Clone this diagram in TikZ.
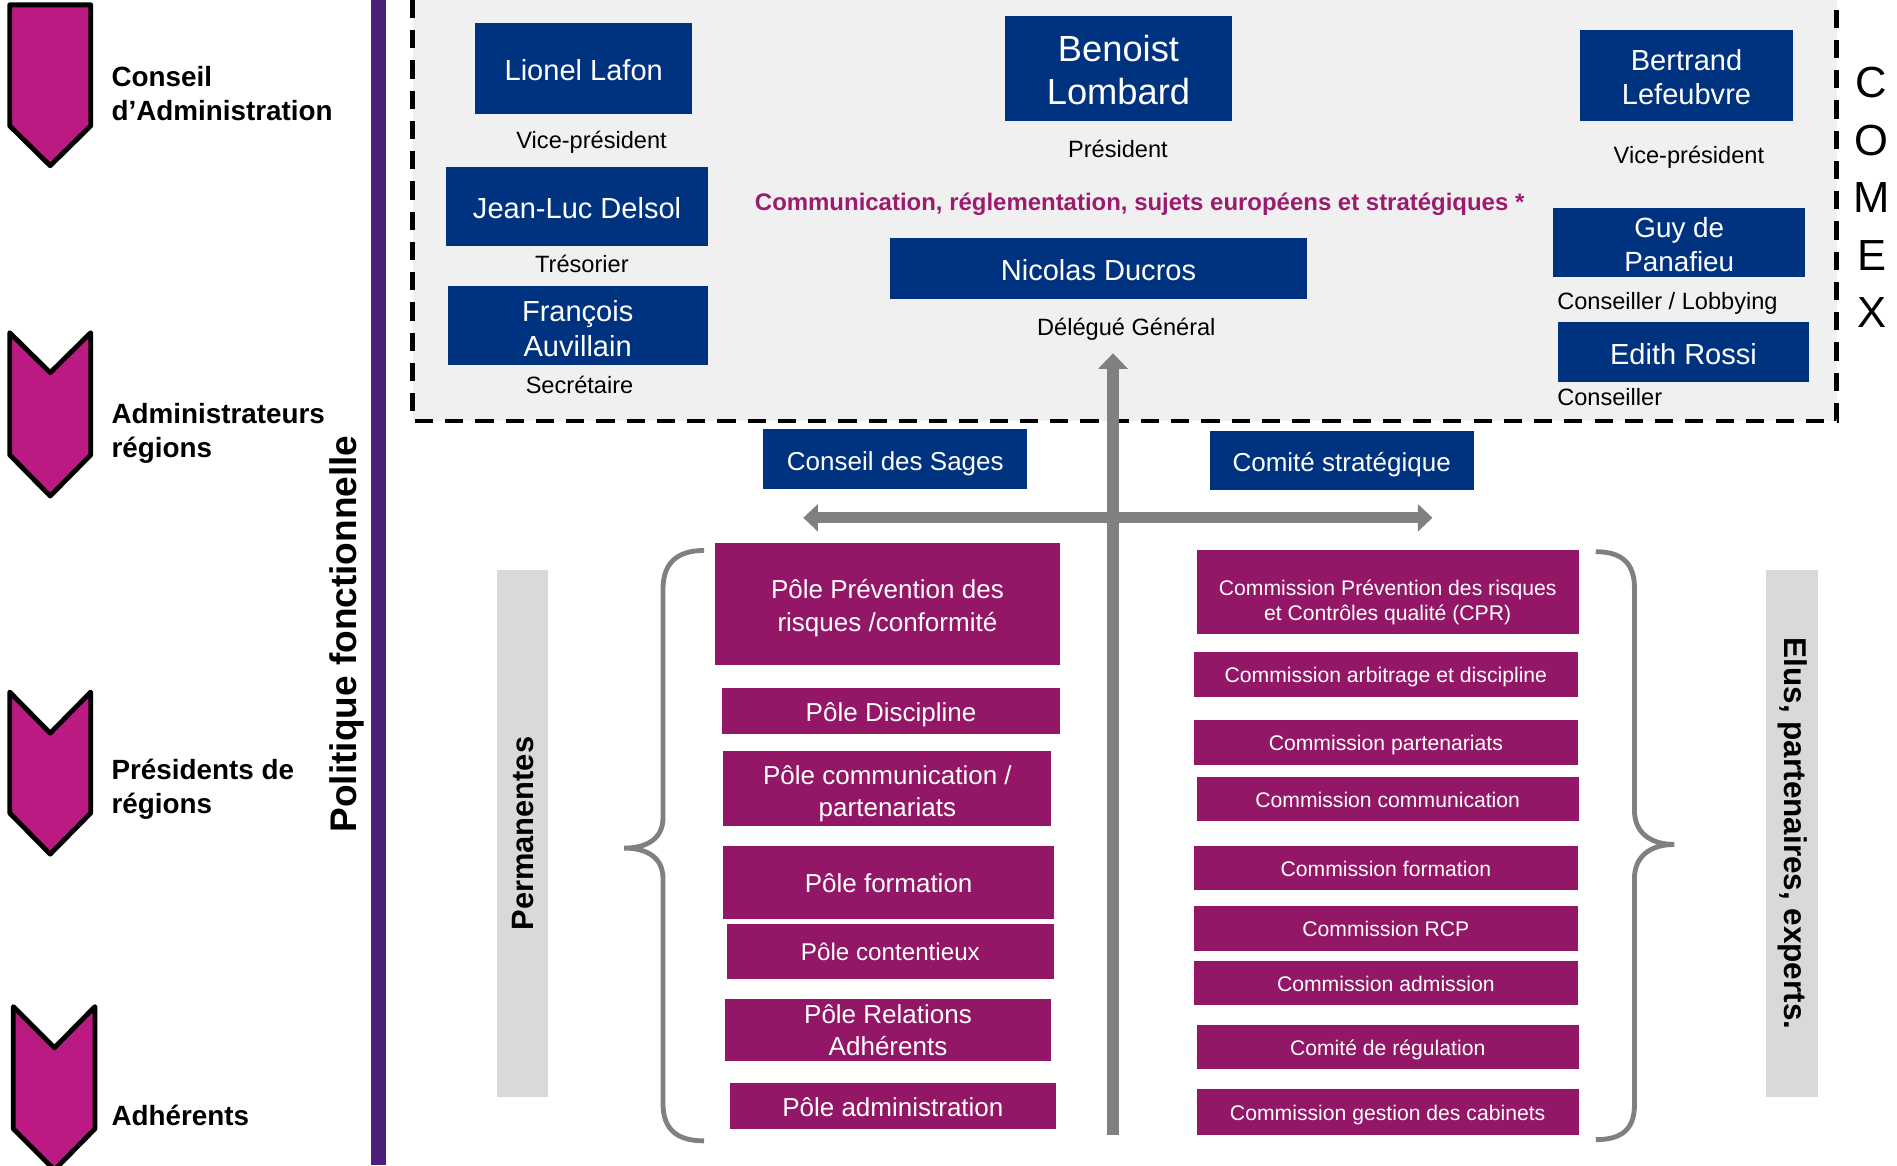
\documentclass[tikz,border=0pt]{standalone}
\usepackage{fontspec}
\setmainfont{Liberation Sans}
\usetikzlibrary{arrows.meta}
\definecolor{navy}{HTML}{00337F}
\definecolor{polec}{HTML}{931766}
\definecolor{chevc}{HTML}{BC1A83}
\definecolor{purplebar}{HTML}{4B1E7A}
\definecolor{magtext}{HTML}{9B1B6E}
\definecolor{arrgray}{HTML}{808080}
\definecolor{bargray}{HTML}{D9D9D9}
\definecolor{comexbg}{HTML}{F0F0F0}
\begin{document}
\begin{tikzpicture}[x=1pt,y=-1pt,
  capc/.style={text height=#1, text depth=0pt},
  navybox/.style={fill=navy, text=white, align=center, inner sep=0pt, font=\fontsize{24}{29}\selectfont, capc=20pt},
  polebox/.style={fill=polec, text=white, align=center, inner sep=0pt, font=\fontsize{21.5}{26}\selectfont, capc=17pt},
  combox/.style={fill=polec, text=white, align=center, inner sep=0pt, font=\fontsize{17.5}{21}\selectfont, capc=13.5pt},
  wtxt/.style={text=white, align=center, inner sep=0pt},
  role/.style={inner sep=0pt, capc=15pt, font=\fontsize{19.5}{23}\selectfont},
  lefttxt/.style={inner sep=0pt, anchor=west, align=left, font=\bfseries\fontsize{23}{28}\selectfont},
  chev/.style={fill=chevc, draw=black, line width=4pt, line join=round},
  garrow/.style={draw=arrgray, line width=9pt},
  brace/.style={draw=arrgray, line width=4pt},
  sidebar/.style={fill=bargray},
  comexl/.style={inner sep=0pt, font=\fontsize{36}{40}\selectfont}
]
\useasboundingbox (0,0) rectangle (1568,963);
\fill[white] (0,0) rectangle (1568,963);

% left chevrons
\draw[chev] (8,4) -- (75,4) -- (75,104) -- (41.5,137) -- (8,104) -- cycle;
\draw[chev] (8,275) -- (41.5,308) -- (75,275) -- (75,376) -- (41.5,410) -- (8,376) -- cycle;
\draw[chev] (8,572) -- (41.5,606) -- (75,572) -- (75,672) -- (41.5,706) -- (8,672) -- cycle;
\draw[chev] (11,832) -- (45,866) -- (78.5,832) -- (78.5,933) -- (45,967) -- (11,933) -- cycle;

\node[lefttxt] (l1) at (92,77) {Conseil\\d’Administration};
\node[lefttxt] (l2) at (92,358.5) {Administrateurs\\régions};
\node[lefttxt] (l3) at (92,652) {Présidents de\\régions};
\node[lefttxt] (l4) at (92,922) {Adhérents};

\node[inner sep=0pt, rotate=90, font=\bfseries\fontsize{30.6}{34}\selectfont] (pol) at (287,524) {Politique fonctionnelle};

% purple bar
\fill[purplebar] (307,0) rectangle (319,963);

% COMEX area
\fill[comexbg] (341,0) rectangle (1518,348);
\draw[line width=4pt, dash pattern=on 15pt off 10pt] (341,0) -- (341,348) -- (1518,348) -- (1518,0);

\node[comexl] (cx1) at (1547,68) {C};
\node[comexl] (cx2) at (1547,116) {O};
\node[comexl] (cx3) at (1547,163) {M};
\node[comexl] (cx4) at (1547,211) {E};
\node[comexl] (cx5) at (1547,258) {X};

% navy boxes
\node[navybox, minimum width=179pt, minimum height=75pt] (lionel) at (482.5,56.5) {Lionel Lafon};
\node[navybox, minimum width=187pt, minimum height=87pt] (benoist) at (924.5,56.5) {};
\node[wtxt, font=\fontsize{30}{36}\selectfont, yshift=-1.5pt] (benoist-t) at (benoist.center) {Benoist\\Lombard};
\node[navybox, minimum width=176pt, minimum height=75pt] (bertrand) at (1394,62.5) {};
\node[wtxt, font=\fontsize{24}{28}\selectfont, yshift=-1.5pt] (bertrand-t) at (bertrand.center) {Bertrand\\Lefeubvre};
\node[navybox, minimum width=216pt, minimum height=65pt] (jeanluc) at (477,170.5) {Jean-Luc Delsol};
\node[navybox, minimum width=215pt, minimum height=66pt] (francois) at (477.5,269) {};
\node[wtxt, font=\fontsize{24}{29}\selectfont, yshift=-2.5pt] (francois-t) at (francois.center) {François\\Auvillain};
\node[navybox, minimum width=344pt, minimum height=50pt] (nicolas) at (908,222) {Nicolas Ducros};
\node[navybox, minimum width=208pt, minimum height=57pt] (guy) at (1388,200.5) {};
\node[wtxt, font=\fontsize{23}{28}\selectfont, yshift=-2pt] (guy-t) at (guy.center) {Guy de\\Panafieu};
\node[navybox, minimum width=207pt, minimum height=50pt] (edith) at (1391.5,291) {Edith Rossi};

\node[navybox, capc=18pt, minimum width=218pt, minimum height=49pt, font=\fontsize{21.5}{25}\selectfont] (sages) at (740,379.5) {Conseil des Sages};
\node[navybox, capc=18pt, minimum width=218pt, minimum height=49pt, font=\fontsize{21.5}{25}\selectfont] (strat) at (1109,380.5) {Comité stratégique};

% roles
\node[role] (r1) at (489,115.5) {Vice-président};
\node[role] (r2) at (924,122.5) {Président};
\node[role] (r3) at (1396,127.5) {Vice-président};
\node[role] (r4) at (481,218) {Trésorier};
\node[role] (r5) at (479,318) {Secrétaire};
\node[role] (r6) at (931,269.5) {Délégué Général};
\node[role, anchor=west] (r7) at (1287,248) {Conseiller / Lobbying};
\node[role, anchor=west] (r8) at (1287,328) {Conseiller};

\node[inner sep=0pt, capc=14.2pt, text=magtext, font=\bfseries\fontsize{19.8}{23}\selectfont] (comm) at (942,166.5) {Communication, réglementation, sujets européens et stratégiques *};

% side bars
\fill[sidebar] (411,471) rectangle (453,907);
\fill[sidebar] (1460,471) rectangle (1503,907);
\node[inner sep=0pt, rotate=90, font=\bfseries\fontsize{25.5}{30}\selectfont] (perm) at (432,689) {Permanentes};
\node[inner sep=0pt, rotate=-90, font=\bfseries\fontsize{26}{30}\selectfont] (elus) at (1482,689) {Elus, partenaires, experts.};

% braces
\draw[brace] (582,455) .. controls (560,455) and (548,465) .. (548,487) -- (548,676)
  .. controls (548,693) and (535,701) .. (516,701)
  .. controls (535,701) and (548,709) .. (548,726) -- (548,912)
  .. controls (548,934) and (560,943) .. (582,943);
\draw[brace] (1319,456) .. controls (1341,456) and (1351,466) .. (1351,486) -- (1351,670)
  .. controls (1351,688) and (1364,698) .. (1384,698)
  .. controls (1364,698) and (1351,708) .. (1351,726) -- (1351,913)
  .. controls (1351,933) and (1341,942) .. (1319,942);

% pole boxes
\node[polebox, minimum width=285pt, minimum height=101pt] (p1) at (733.5,499.5) {};
\node[wtxt, font=\fontsize{21.5}{27}\selectfont, yshift=-3pt] (p1-t) at (p1.center) {Pôle Prévention des\\risques /conformité};
\node[polebox, minimum width=279pt, minimum height=38pt] (p2) at (736.5,588) {Pôle Discipline};
\node[polebox, minimum width=271pt, minimum height=62pt] (p3) at (733.5,652) {};
\node[wtxt, font=\fontsize{21.5}{26}\selectfont, yshift=-4pt] (p3-t) at (p3.center) {Pôle communication /\\partenariats};
\node[polebox, minimum width=273pt, minimum height=61pt] (p4) at (734.5,729.5) {Pôle formation};
\node[polebox, capc=15.5pt, minimum width=270pt, minimum height=45pt, font=\fontsize{20}{24}\selectfont] (p5) at (736,786.5) {Pôle contentieux};
\node[polebox, minimum width=270pt, minimum height=51pt] (p6) at (734,851.5) {};
\node[wtxt, font=\fontsize{21.5}{26}\selectfont] (p6-t) at (p6.center) {Pôle Relations\\Adhérents};
\node[polebox, minimum width=270pt, minimum height=38pt] (p7) at (738,914) {Pôle administration};

% commission boxes
\node[combox, minimum width=316pt, minimum height=69pt] (c1) at (1147,489.5) {};
\node[wtxt, font=\fontsize{17.5}{21}\selectfont, yshift=-8.5pt] (c1-t) at (c1.center) {Commission Prévention des risques\\et Contrôles qualité (CPR)};
\node[combox, minimum width=317pt, minimum height=37pt] (c2) at (1145.5,557.5) {Commission arbitrage et discipline};
\node[combox, minimum width=317pt, minimum height=37pt] (c3) at (1145.5,613.5) {Commission partenariats};
\node[combox, minimum width=316pt, minimum height=37pt] (c4) at (1147,660.5) {Commission communication};
\node[combox, minimum width=317pt, minimum height=37pt] (c5) at (1145.5,717.5) {Commission formation};
\node[combox, minimum width=317pt, minimum height=37pt] (c6) at (1145.5,767.5) {Commission RCP};
\node[combox, minimum width=317pt, minimum height=37pt] (c7) at (1145.5,812.5) {Commission admission};
\node[combox, minimum width=316pt, minimum height=37pt] (c8) at (1147,865.5) {Comité de régulation};
\node[combox, minimum width=316pt, minimum height=38pt] (c9) at (1147,919) {Commission gestion des cabinets};

% arrows
\coordinate (hl) at (664,428);
\coordinate (hr) at (1184,428);
\coordinate (vbot) at (920,938);
\coordinate (vtop) at (920,292);
\draw[garrow, {Triangle[width=22pt,length=12pt]}-{Triangle[width=22pt,length=12pt]}] (hl) -- (hr);
\draw[garrow, line width=10pt, -{Triangle[width=24pt,length=13pt]}] (vbot) -- (vtop);

\end{tikzpicture}
\end{document}
